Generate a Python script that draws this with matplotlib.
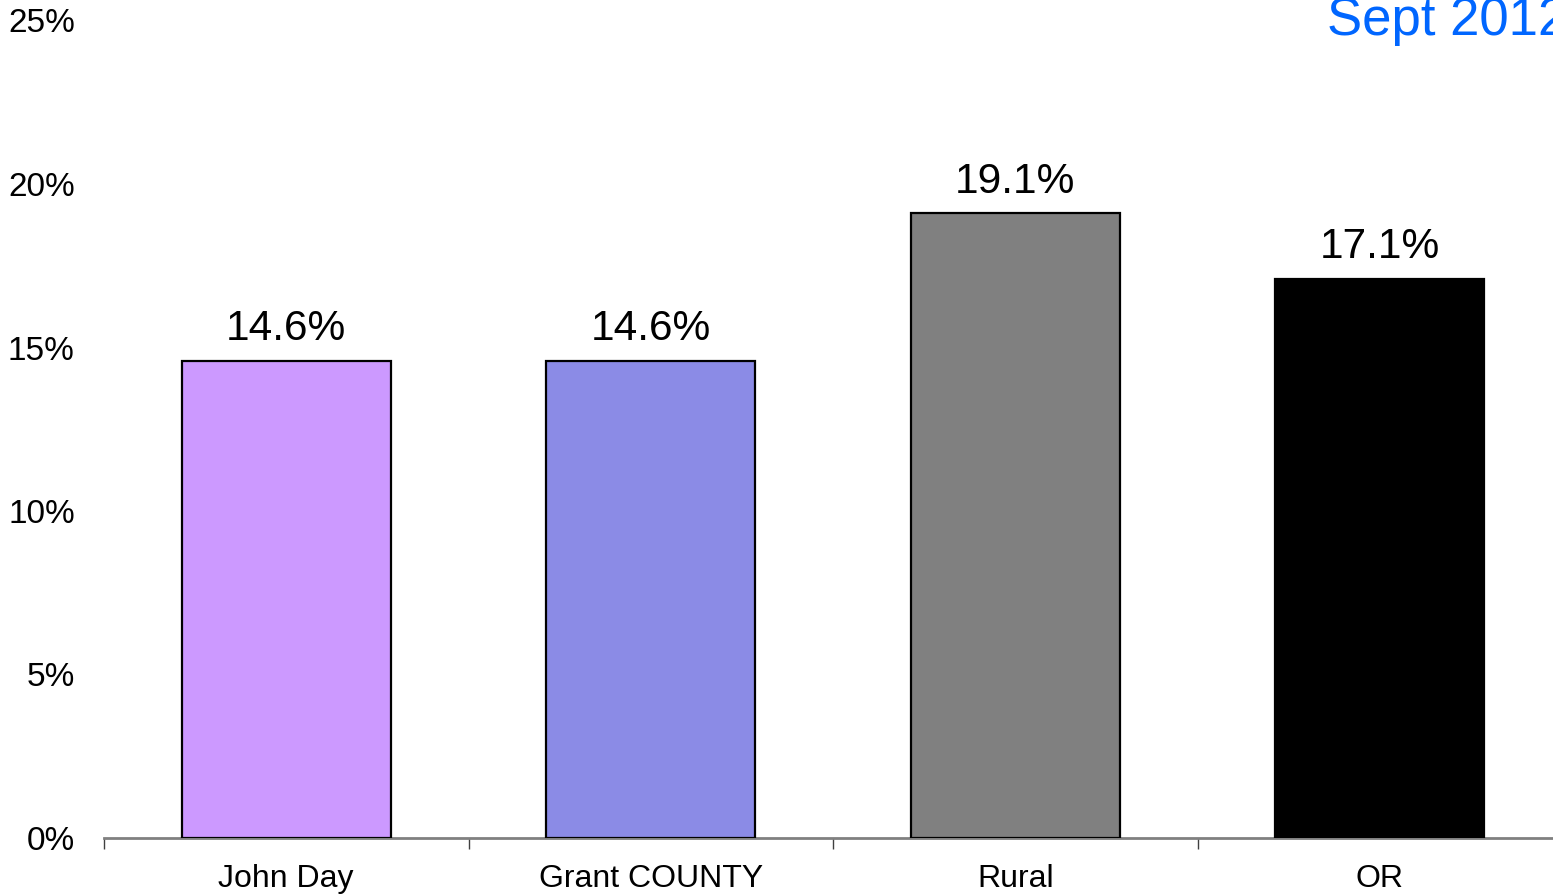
import matplotlib
matplotlib.use("Agg")
import matplotlib.pyplot as plt
from matplotlib.ticker import FuncFormatter

plt.rcParams["font.family"] = ["Liberation Sans", "DejaVu Sans"]

categories = ["John Day", "Grant COUNTY", "Rural", "OR"]
values = [14.6, 14.6, 19.1, 17.1]
value_labels = ["14.6%", "14.6%", "19.1%", "17.1%"]
colors = ["#cc99ff", "#8b8be6", "#808080", "#000000"]

fig = plt.figure(figsize=(15.53, 8.94), dpi=100, facecolor="white")
ax = fig.add_axes([104 / 1553, 56 / 894, 1458 / 1553, 817.5 / 894])

x = range(len(categories))
ax.bar(x, values, width=0.573, color=colors, edgecolor="black", linewidth=1.6, zorder=3)
for xi, v, lab in zip(x, values, value_labels):
    ax.text(xi, v + 0.35, lab, ha="center", va="bottom", fontsize=30.5, color="black")

ax.set_xlim(-0.5, len(categories) - 0.5)
ax.set_ylim(0, 25)
ax.set_yticks([0, 5, 10, 15, 20, 25])
ax.yaxis.set_major_formatter(FuncFormatter(lambda v, p: f"{v:.0f}%"))
ax.tick_params(axis="y", length=0, pad=21, labelsize=24)

# category separators as major ticks, names as minor ticks at bar centres
ax.set_xticks([i + 0.5 for i in range(-1, len(categories))], minor=False)
ax.set_xticklabels([])
ax.tick_params(axis="x", which="major", direction="out", length=8, width=1, color="#404040")
ax.set_xticks(list(x), minor=True)
ax.set_xticklabels(categories, minor=True, fontsize=23)
ax.tick_params(axis="x", which="minor", length=0, pad=19)

for side in ("top", "right", "left"):
    ax.spines[side].set_visible(False)
ax.spines["bottom"].set_color("#808080")
ax.spines["bottom"].set_linewidth(2)

fig.text(1327 / 1553, 1 - 35 / 894, "Sept 2012", ha="left", va="baseline",
         fontsize=38, color="#0066ff")

fig.savefig("out.png", dpi=100, facecolor="white")
